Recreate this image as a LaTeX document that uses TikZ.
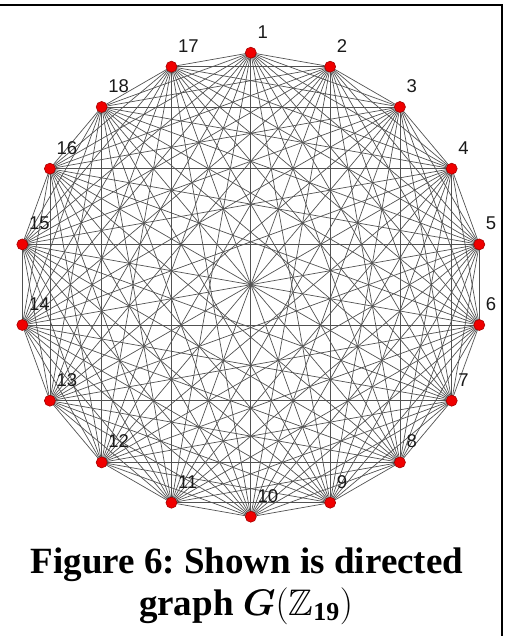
\documentclass[tikz,border=0pt]{standalone}
\usepackage{fix-cm}
\usepackage{amsmath,amssymb}
\usepackage{fontspec}
\setmainfont{Liberation Serif}
\newfontfamily\labelfont{Liberation Sans}
\definecolor{dotred}{RGB}{240,0,0}
\definecolor{dotedge}{RGB}{165,0,0}
\frenchspacing
\begin{document}
\begin{tikzpicture}[x=1pt,y=-1pt,
    vertex/.style={circle, fill=dotred, draw=dotedge, line width=0.6pt, inner sep=0pt, minimum size=11pt},
    edge/.style={black!68, line width=0.7pt},
    vlabel/.style={font=\labelfont\fontsize{18.5}{18.5}\selectfont, text=black!90, anchor=base west, inner sep=0pt},
    caption/.style={font=\fontsize{37}{42}\selectfont\bfseries, anchor=base, inner sep=0pt}]
    \useasboundingbox (0,0) rectangle (504,636);
    % Rahmen
    \draw[line width=2pt] (0,4.8) -- (501.5,4.8) -- (501.5,636);
    % Ecken im Uhrzeigersinn ab oben
    \foreach \lab [count=\k from 0] in {1,2,3,4,5,6,7,8,9,10,11,12,13,14,15,16,18,17}
        \coordinate (p\lab) at ({250.8+232*cos(90-20*\k)}, {284.7-232*sin(90-20*\k)});
    % alle Kanten
    \foreach \i in {1,...,17} {
        \pgfmathtruncatemacro\nxt{\i+1}
        \foreach \j in {\nxt,...,18}
            \draw[edge] (p\i) -- (p\j);
    }
    % Punkte und Nummern
    \foreach \lab in {1,...,18} {
        \node[vertex] (v\lab) at (p\lab) {};
        \node[vlabel] (l\lab) at ([xshift=6.5pt,yshift=14.5pt]p\lab) {\lab};
    }
    % Unterschrift
    \node[caption] (cap1) at (247,573) {Figure 6: Shown is directed};
    \node[caption] (cap2) at (246,615) {graph $\boldsymbol{G}(\mathbb{Z}_{\mathbf{19}})$};
\end{tikzpicture}
\end{document}
